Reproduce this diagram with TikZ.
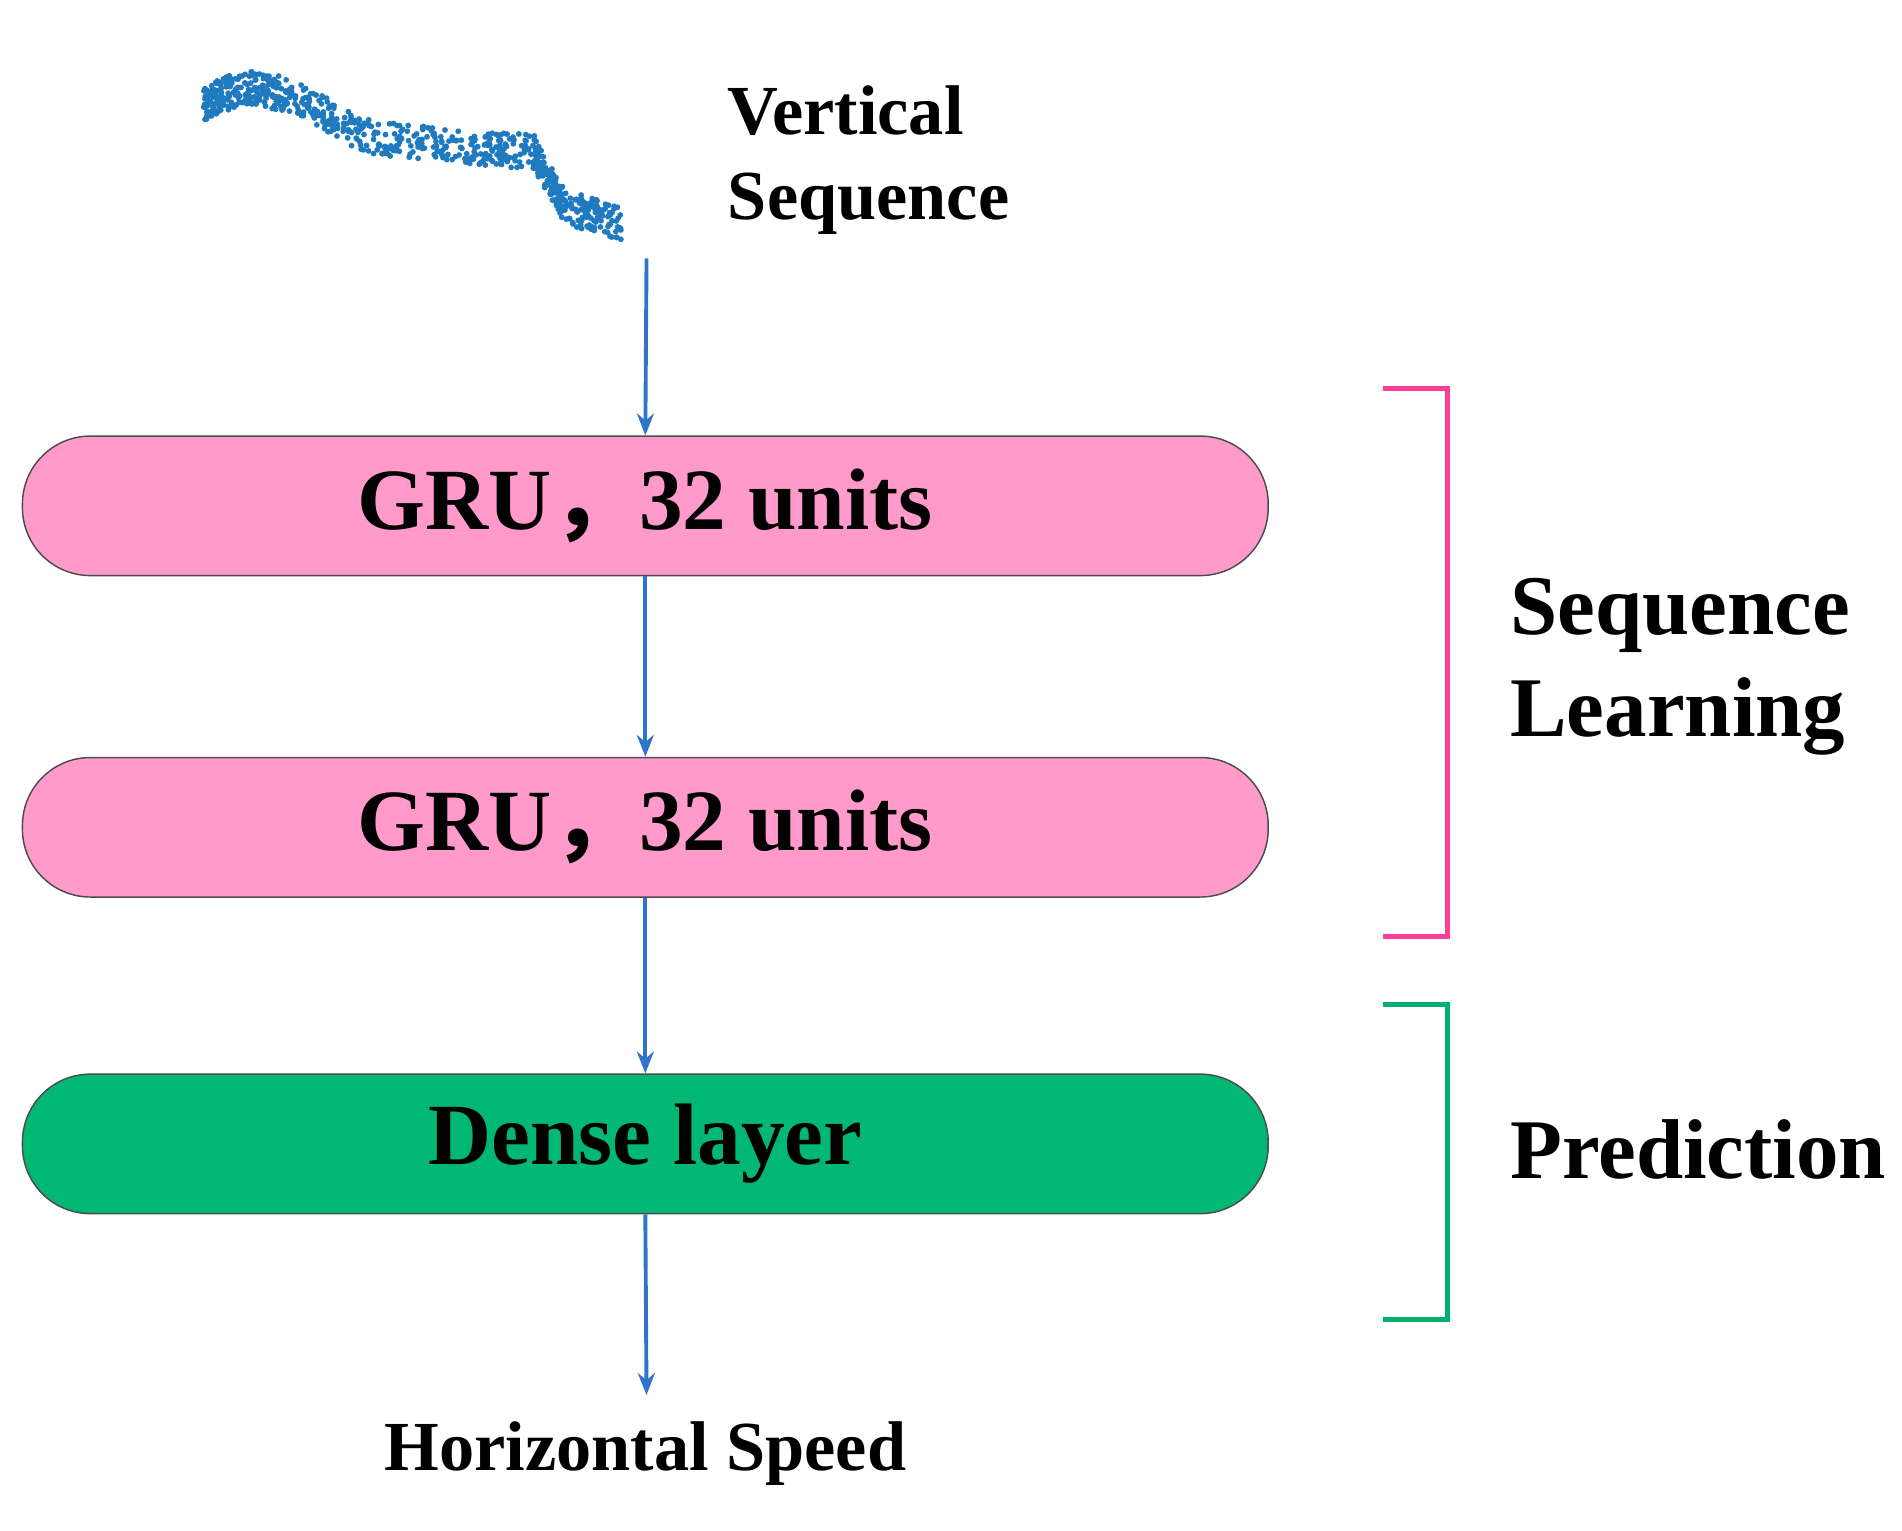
\documentclass[tikz,border=0pt]{standalone}
\usepackage{fontspec}
\setmainfont{Liberation Serif}
\newfontfamily\cjk{Noto Sans CJK SC}
\usetikzlibrary{arrows.meta,shapes.geometric}
\definecolor{pinkfill}{HTML}{FF9ACB}
\definecolor{pinkline}{HTML}{FF3F96}
\definecolor{greenfill}{HTML}{00B873}
\definecolor{greenline}{HTML}{00B06E}
\definecolor{arrowblue}{HTML}{2E75C9}
\definecolor{dotblue}{HTML}{1F7ABF}
\begin{document}
\begin{tikzpicture}[x=0.5pt,y=-0.5pt,
  layer/.style={rectangle,rounded corners=28pt,draw=black!70,line width=0.6pt,minimum width=513.5pt,minimum height=57.5pt,inner sep=0pt,font=\fontsize{36}{40}\selectfont\bfseries},
  flow/.style={draw=arrowblue,line width=1.6pt,-{Stealth[length=9pt,width=7pt]}},
  lab/.style={font=\fontsize{35}{42}\selectfont\bfseries,align=left,anchor=west},
  small/.style={font=\fontsize{29}{35}\selectfont\bfseries,align=left}]
\useasboundingbox (0,0) rectangle (1568,1262);
% scatter
\pgfmathsetseed{7}
\foreach \xa/\ya/\xb/\yb in {168/85/200/72, 200/72/240/78, 240/78/300/112, 300/112/380/122, 380/122/440/125, 440/125/465/170, 465/170/512/185}{
  \foreach \i in {1,...,110}{
    \pgfmathsetmacro{\t}{rnd}
    \pgfmathsetmacro{\px}{\xa+(\xb-\xa)*\t}
    \pgfmathsetmacro{\py}{\ya+(\yb-\ya)*\t+14*rand}
    \fill[dotblue] (\px,\py) circle (1.2pt);
  }
}
\coordinate (src) at (533,213);
\node[small,anchor=west] (vs) at (593,132) {Vertical\\Sequence};
\node[layer,fill=pinkfill] (g1) at (532,417) {GRU{\cjk ，}32 units};
\node[layer,fill=pinkfill] (g2) at (532,682) {GRU{\cjk ，}32 units};
\node[layer,fill=greenfill] (d) at (532,943) {Dense layer};
\node[small] (hs) at (532,1198) {Horizontal Speed};
\coordinate (out) at (533,1150);
\draw[flow] (src) -- (g1.north);
\draw[flow] (g1.south) -- (g2.north);
\draw[flow] (g2.south) -- (d.north);
\draw[flow] (d.south) -- (out);
% brackets
\coordinate (p1) at (1140,320); \coordinate (p2) at (1193,320);
\coordinate (p3) at (1193,772); \coordinate (p4) at (1140,772);
\draw[pinkline,line width=2pt] (p1) -- (p2) -- (p3) -- (p4);
\coordinate (q1) at (1140,828); \coordinate (q2) at (1193,828);
\coordinate (q3) at (1193,1088); \coordinate (q4) at (1140,1088);
\draw[greenline,line width=2pt] (q1) -- (q2) -- (q3) -- (q4);
\node[lab] (sl) at (1238,550) {Sequence\\Learning};
\node[lab] (pr) at (1238,948) {Prediction};
\end{tikzpicture}
\end{document}
